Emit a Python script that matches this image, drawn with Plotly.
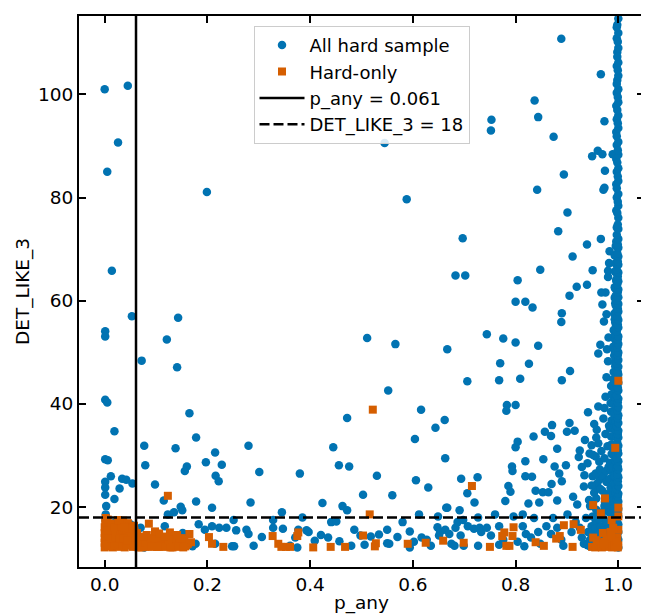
import plotly.graph_objects as go

# ---------------- data ----------------
p_any_cut = 0.061
det_like_cut = 18

# All hard sample: scattered points (p_any, DET_LIKE_3)
all_left_x = [0.000, 0.045, 0.026, 0.005, 0.014, 0.053, 0.001, 0.001, 0.001, 0.005,
              0.019, 0.001, 0.006, 0.012, 0.001, 0.001, 0.001, 0.034, 0.029, 0.019,
              0.003, 0.054, 0.042, 0.002, 0.007, 0.018, 0.030, 0.046, 0.054, 0.050,
              0.002, 0.020]
all_left_y = [101.0, 101.7, 90.7, 85.0, 65.8, 57.0, 54.1, 53.1, 40.8, 40.3,
              34.7, 29.3, 29.1, 26.0, 24.9, 23.8, 22.4, 25.5, 23.6, 21.6,
              20.2, 24.6, 25.3, 18.6, 16.0, 14.8, 14.1, 15.6, 14.4, 16.7,
              17.4, 17.0]

all_low_x = [0.072, 0.077, 0.079, 0.098, 0.121, 0.143, 0.141, 0.138, 0.165, 0.178,
             0.160, 0.156, 0.197, 0.215, 0.228, 0.216, 0.222, 0.199, 0.115, 0.123,
             0.135, 0.148, 0.151, 0.178, 0.209, 0.280, 0.301, 0.284, 0.070, 0.066,
             0.077, 0.117, 0.104, 0.152, 0.171, 0.177, 0.183, 0.195, 0.209, 0.223,
             0.215, 0.237, 0.251, 0.256, 0.248, 0.252, 0.276, 0.280, 0.290, 0.306,
             0.328, 0.328, 0.347, 0.345]
all_low_y = [48.4, 31.9, 28.1, 24.4, 52.5, 56.7, 47.1, 31.4, 38.2, 33.5,
             27.9, 27.0, 28.7, 30.6, 28.2, 26.1, 25.0, 81.1, 21.3, 18.6,
             19.0, 20.1, 19.4, 21.1, 19.9, 31.9, 26.8, 20.9, 16.0, 14.1,
             12.2, 16.3, 14.2, 15.0, 12.4, 12.9, 16.7, 15.6, 16.3, 16.0,
             12.9, 16.0, 17.5, 15.5, 12.4, 12.4, 15.6, 14.8, 12.5, 14.2,
             17.5, 16.0, 15.8, 19.0]

all_mid_x = [0.445, 0.472, 0.456, 0.476, 0.380, 0.424, 0.463, 0.472, 0.503, 0.511,
             0.545, 0.552, 0.566, 0.530, 0.560, 0.588, 0.616, 0.604, 0.606, 0.630,
             0.644, 0.663, 0.662, 0.667, 0.683, 0.702, 0.697, 0.706, 0.694, 0.726,
             0.706, 0.720, 0.691, 0.665, 0.361, 0.371, 0.377, 0.385, 0.375, 0.393,
             0.397, 0.409, 0.421, 0.435, 0.441, 0.451, 0.457, 0.486, 0.480, 0.498,
             0.506, 0.518, 0.534, 0.550, 0.550, 0.554, 0.570, 0.580, 0.594, 0.594,
             0.602, 0.612, 0.617, 0.627, 0.635, 0.648, 0.651, 0.653, 0.663, 0.671,
             0.675, 0.681, 0.683, 0.687, 0.693, 0.698, 0.699, 0.707, 0.719, 0.727,
             0.730, 0.733, 0.727, 0.744, 0.649, 0.667]
all_mid_y = [31.6, 37.3, 28.1, 27.9, 26.5, 20.8, 20.2, 19.4, 22.4, 52.8,
             90.6, 42.6, 51.6, 26.1, 22.3, 79.7, 38.9, 33.2, 25.2, 23.8,
             35.4, 29.5, 36.9, 50.6, 64.9, 64.9, 72.1, 44.4, 25.5, 25.8,
             22.7, 20.9, 19.4, 19.9, 12.5, 14.1, 15.6, 18.0, 12.2, 15.5,
             15.2, 13.5, 14.6, 14.1, 17.1, 17.2, 13.4, 15.6, 12.5, 14.5,
             12.7, 14.3, 14.7, 15.6, 13.0, 12.9, 14.2, 17.1, 15.3, 12.2,
             13.3, 18.6, 14.1, 13.7, 12.5, 16.1, 14.5, 15.2, 15.6, 14.8,
             12.9, 12.5, 16.0, 17.1, 14.5, 17.5, 12.5, 16.3, 15.8, 18.0,
             16.0, 15.2, 12.5, 16.0, 18.2, 19.9]

all_high_x = [0.744, 0.753, 0.752, 0.776, 0.770, 0.768, 0.783, 0.782, 0.800, 0.800,
              0.800, 0.804, 0.809, 0.819, 0.833, 0.826, 0.837, 0.844, 0.842, 0.848,
              0.844, 0.874, 0.889, 0.894, 0.883, 0.901, 0.911, 0.905, 0.919, 0.890,
              0.889, 0.890, 0.906, 0.939, 0.939, 0.950, 0.949, 0.960, 0.966, 0.969,
              0.974, 0.973, 0.971, 0.973, 0.966, 0.989,
              0.800, 0.804, 0.819, 0.835, 0.857, 0.871, 0.869, 0.881, 0.876, 0.854,
              0.793, 0.794, 0.786, 0.790, 0.780, 0.819, 0.832, 0.839, 0.853, 0.864,
              0.881, 0.846, 0.825, 0.890, 0.898, 0.900, 0.905, 0.915, 0.923, 0.929,
              0.934, 0.933, 0.941, 0.944, 0.956, 0.953, 0.957, 0.961, 0.963, 0.964,
              0.969, 0.957, 0.945, 0.973, 0.975, 0.977, 0.980, 0.978, 0.981, 0.965,
              0.961, 0.972, 0.977, 0.969, 0.975, 0.980, 0.982, 0.983, 0.980, 0.967,
              0.912, 0.920, 0.870, 0.885, 0.940, 0.950, 0.955, 0.925, 0.935, 0.948]
all_high_y = [53.5, 95.1, 93.0, 52.7, 47.9, 44.6, 39.8, 38.7, 39.8, 51.9,
              59.8, 64.0, 44.9, 59.8, 58.7, 47.8, 98.8, 95.6, 81.5, 66.0,
              51.3, 91.8, 110.8, 84.5, 73.5, 77.1, 68.6, 61.0, 62.7, 57.6,
              55.9, 44.6, 46.4, 70.9, 63.1, 65.9, 88.0, 89.1, 72.0, 88.4,
              85.2, 81.9, 81.5, 94.8, 103.9, 88.4,
              31.6, 32.7, 28.9, 33.7, 34.6, 35.9, 33.8, 31.3, 27.9, 29.3,
              27.9, 27.0, 24.1, 23.0, 21.2, 26.0, 25.9, 23.2, 22.9, 22.9,
              21.3, 20.9, 20.7, 25.0, 28.1, 34.6, 36.3, 34.8, 29.7, 27.8,
              26.2, 24.0, 38.4, 30.4, 29.8, 36.1, 33.5, 39.5, 28.8, 25.4,
              23.2, 21.7, 20.2, 39.2, 41.4, 45.2, 48.3, 50.6, 52.9, 51.5,
              49.8, 56.0, 57.4, 59.3, 61.6, 64.6, 67.3, 69.6, 65.8, 61.6,
              22.0, 20.5, 24.5, 26.5, 28.5, 26.0, 24.0, 31.0, 33.0, 32.0]

all_floor_x = [0.752, 0.760, 0.768, 0.768, 0.776, 0.796, 0.804, 0.814, 0.814, 0.820,
               0.817, 0.830, 0.836, 0.844, 0.848, 0.860, 0.869, 0.873, 0.881, 0.889,
               0.893, 0.901, 0.909, 0.917, 0.925, 0.929, 0.933, 0.937, 0.941, 0.948,
               0.945, 0.956, 0.957, 0.961, 0.965, 0.969, 0.975, 0.980, 0.983, 0.973,
               0.980, 0.940, 0.955, 0.962, 0.970, 0.978, 0.985, 0.988]
all_floor_y = [14.5, 18.6, 16.3, 12.7, 13.7, 18.2, 13.3, 18.6, 16.3, 14.8,
               12.4, 14.1, 17.9, 15.2, 12.9, 16.3, 14.8, 17.9, 16.0, 13.7,
               12.5, 18.6, 15.2, 17.1, 16.0, 14.1, 12.9, 17.9, 15.2, 16.3,
               13.7, 17.1, 15.6, 14.5, 16.3, 13.3, 15.2, 16.3, 19.4, 20.2,
               20.5, 12.6, 12.8, 18.5, 17.8, 12.6, 14.0, 18.0]

# crowded region just left of p_any = 1
all_blob_x = [0.945, 0.952, 0.958, 0.963, 0.968, 0.972, 0.976, 0.947, 0.955, 0.960,
              0.966, 0.971, 0.975, 0.979, 0.950, 0.957, 0.962, 0.969, 0.974, 0.978,
              0.943, 0.953, 0.959, 0.965, 0.970, 0.977, 0.981, 0.948, 0.956, 0.964,
              0.973, 0.979, 0.951, 0.961, 0.967, 0.975, 0.982, 0.958, 0.971, 0.976]
all_blob_y = [12.4, 13.1, 12.8, 13.6, 12.5, 14.2, 13.0, 15.0, 15.8, 14.6,
              16.2, 15.5, 17.3, 14.4, 18.2, 19.5, 17.8, 19.0, 21.0, 22.5,
              21.4, 22.8, 24.6, 23.5, 26.1, 24.9, 27.8, 24.2, 26.5, 27.3,
              29.5, 31.8, 30.1, 32.4, 30.9, 34.2, 35.8, 35.0, 37.2, 27.0]

# dense column of sources at p_any ~ 1
col_one_y = [12.2, 12.8, 13.7, 14.3, 15.2, 15.8, 16.7, 17.3, 18.2, 18.8,
             19.7, 20.5, 21.1, 22.0, 22.6, 23.5, 24.1, 25.0, 25.8, 26.4,
             27.3, 27.9, 28.9, 29.4, 30.4, 31.0, 31.9, 32.5, 33.5, 34.2,
             34.8, 35.7, 36.3, 37.3, 37.8, 38.8, 39.4, 40.3, 41.0, 41.6,
             42.6, 43.2, 44.1, 44.7, 45.7, 46.2, 47.2, 47.9, 48.5, 49.5,
             50.0, 51.0, 51.6, 52.5, 53.1, 54.0, 54.8, 55.4, 56.3, 56.9,
             57.9, 58.5, 59.4, 60.1, 60.7, 61.7, 62.2, 63.2, 63.8, 64.7,
             65.5, 66.0, 67.0, 67.6, 68.6, 69.2, 70.3, 70.9, 72.0, 72.8,
             73.9, 74.8, 76.1, 77.0, 78.4, 79.2, 80.7, 81.8, 83.2, 84.1,
             85.7, 86.8, 88.3, 89.2, 90.8, 91.9, 93.5, 94.4, 95.9, 97.0,
             98.5, 99.5, 101.0, 102.0, 103.6, 104.7, 106.2, 107.3, 109.0, 110.2,
             111.9, 113.0, 114.7, 116.0]
col_one_x = [1.000, 0.999, 1.000, 0.998, 1.000, 0.999, 1.000, 0.997, 1.000, 0.999,
             1.000, 0.998, 1.000, 0.999, 1.000, 0.997, 1.000, 0.999, 1.000, 0.998,
             1.000, 0.999, 1.000, 0.997, 1.000, 0.999, 1.000, 0.998, 1.000, 0.999,
             1.000, 0.997, 1.000, 0.999, 1.000, 0.998, 1.000, 0.999, 1.000, 0.997,
             1.000, 0.999, 1.000, 0.998, 1.000, 0.999, 1.000, 0.997, 1.000, 0.999,
             1.000, 0.998, 1.000, 0.999, 1.000, 0.997, 1.000, 0.999, 1.000, 0.998,
             1.000, 0.999, 1.000, 0.997, 1.000, 0.999, 1.000, 0.998, 1.000, 0.999,
             1.000, 0.997, 1.000, 0.999, 1.000, 0.998, 1.000, 0.999, 1.000, 0.997,
             1.000, 0.999, 1.000, 0.998, 1.000, 0.999, 1.000, 0.997, 1.000, 0.999,
             1.000, 0.998, 1.000, 0.999, 1.000, 0.997, 1.000, 0.999, 1.000, 0.998,
             1.000, 0.999, 1.000, 0.997, 1.000, 0.999, 1.000, 0.998, 1.000, 0.999,
             1.000, 0.997, 1.000, 0.999]

col_fill_y = [12.5, 14.0, 15.5, 17.0, 18.5, 20.0, 21.6, 23.0, 24.5, 26.0,
              27.6, 29.1, 30.6, 32.0, 33.6, 35.1, 36.6, 38.1, 39.6, 41.2,
              42.7, 44.2, 45.7, 47.3, 48.8, 50.3, 51.8, 53.4, 54.9, 56.4,
              57.9, 59.5, 61.0, 62.6, 64.1, 65.7, 67.3, 68.8, 71.5, 74.2,
              77.5, 80.0, 82.6, 85.0, 87.5, 90.2, 92.7, 95.2, 97.8, 100.3,
              102.8, 105.5, 108.2, 110.9, 113.5]
col_fill_x = [0.995, 0.993, 0.996, 0.994, 0.995, 0.993, 0.996, 0.994, 0.995, 0.993,
              0.996, 0.994, 0.995, 0.993, 0.996, 0.994, 0.995, 0.993, 0.996, 0.994,
              0.995, 0.993, 0.996, 0.994, 0.995, 0.993, 0.996, 0.994, 0.995, 0.993,
              0.996, 0.994, 0.995, 0.993, 0.996, 0.994, 0.995, 0.993, 0.996, 0.997,
              0.996, 0.997, 0.996, 0.997, 0.996, 0.997, 0.996, 0.997, 0.996, 0.997,
              0.998, 0.997, 0.998, 0.997, 0.998]

col_near_y = [12.5, 13.9, 15.4, 16.9, 18.4, 19.8, 21.5, 22.9, 24.6, 26.1,
              27.7, 29.0, 30.8, 32.2, 33.9, 35.3, 36.9, 38.6, 40.0, 41.7,
              43.1, 44.8, 46.2, 48.0, 49.4, 51.1, 52.6, 54.3, 55.8, 57.5,
              59.1, 60.6, 62.4, 63.9, 65.6, 67.2, 68.9, 70.6]
col_near_x = [0.991, 0.988, 0.992, 0.989, 0.993, 0.990, 0.991, 0.987, 0.992, 0.990,
              0.989, 0.993, 0.990, 0.988, 0.992, 0.991, 0.989, 0.993, 0.990, 0.988,
              0.992, 0.990, 0.991, 0.994, 0.992, 0.990, 0.993, 0.991, 0.994, 0.992,
              0.995, 0.993, 0.994, 0.996, 0.994, 0.995, 0.996, 0.995]

col_far_y = [12.4, 14.0, 15.7, 17.2, 18.9, 20.6, 22.2, 23.8, 25.5, 27.1,
             28.6, 30.3, 32.0, 33.7, 35.3, 36.8, 38.5, 40.2, 41.9, 43.5]
col_far_x = [0.982, 0.984, 0.981, 0.985, 0.983, 0.986, 0.982, 0.985, 0.983, 0.986,
             0.984, 0.987, 0.985, 0.986, 0.984, 0.987, 0.986, 0.985, 0.987, 0.986]

# Hard-only sources
hard_block_x = [0.000, 0.000, 0.000, 0.000, 0.000, 0.001, 0.002,
                0.008, 0.009, 0.007, 0.010, 0.011, 0.006,
                0.016, 0.017, 0.015, 0.018, 0.014,
                0.024, 0.023, 0.025, 0.022, 0.028,
                0.031, 0.033, 0.030, 0.034, 0.036,
                0.039, 0.041, 0.040, 0.042, 0.045,
                0.047, 0.049, 0.048, 0.051,
                0.055, 0.056, 0.054, 0.058,
                0.062, 0.064, 0.066,
                0.004, 0.012, 0.020, 0.027, 0.035, 0.043, 0.052, 0.059, 0.003, 0.013,
                0.021, 0.029, 0.037, 0.044, 0.053, 0.060, 0.005, 0.019, 0.032, 0.046,
                0.057, 0.026, 0.038]
hard_block_y = [12.2, 13.1, 14.0, 15.0, 16.1, 17.0, 17.9,
                12.4, 13.5, 14.6, 15.7, 16.8, 17.6,
                12.2, 13.2, 14.3, 15.4, 16.4,
                12.5, 13.6, 14.8, 15.8, 16.6,
                12.3, 13.4, 14.5, 15.2, 17.4,
                12.2, 13.1, 14.2, 15.6, 16.9,
                12.6, 13.8, 14.9, 16.2,
                12.3, 13.3, 14.5, 15.4,
                12.4, 13.6, 12.2,
                12.8, 12.7, 12.9, 13.0, 12.8, 12.6, 13.0, 12.9, 14.6, 14.0,
                14.2, 13.9, 14.0, 13.5, 16.0, 14.1, 15.5, 16.0, 16.3, 15.9,
                16.4, 17.5, 16.1]

hard_rest_x = [0.070, 0.078, 0.082, 0.086, 0.094, 0.098, 0.102, 0.074, 0.088, 0.108,
               0.112, 0.115, 0.123, 0.127, 0.135, 0.143, 0.151, 0.159, 0.165, 0.123,
               0.130, 0.138, 0.147, 0.155, 0.162, 0.120, 0.203, 0.209, 0.231, 0.327,
               0.338, 0.344, 0.353, 0.361, 0.375, 0.377, 0.406, 0.440, 0.468, 0.503,
               0.516, 0.522, 0.526, 0.528, 0.590, 0.625, 0.659, 0.699, 0.715, 0.750,
               0.774, 0.778, 0.782, 0.788, 0.794, 0.796, 0.839, 0.855, 0.879, 0.886,
               0.894, 0.911, 0.913, 0.927, 0.949, 0.951, 0.951, 0.965, 0.966, 0.973,
               0.974, 0.977, 0.981, 0.985, 0.987, 0.989, 0.994, 0.994, 0.998, 1.000,
               1.000, 1.000, 1.000, 1.000, 0.960, 0.990, 0.970,
               0.068, 0.072, 0.080, 0.084, 0.090, 0.096, 0.100, 0.105, 0.110, 0.118,
               0.125, 0.132, 0.140, 0.145, 0.150, 0.157, 0.168, 0.063, 0.076, 0.092,
               0.106, 0.117, 0.128, 0.141, 0.153,
               0.955, 0.962, 0.968, 0.975, 0.982, 0.988, 0.993, 0.996, 0.958, 0.972,
               0.986, 0.999]
hard_rest_y = [12.9, 12.3, 14.6, 16.8, 13.3, 15.3, 12.3, 13.5, 12.6, 13.0,
               12.4, 12.8, 12.5, 15.1, 12.9, 12.7, 12.5, 12.7, 14.8, 22.2,
               13.4, 13.9, 13.2, 13.6, 12.9, 13.6, 14.2, 12.9, 12.3, 14.4,
               12.9, 12.3, 12.3, 12.3, 14.4, 15.1, 12.2, 12.3, 12.3, 14.5,
               18.6, 38.9, 12.4, 13.0, 12.9, 13.1, 13.5, 13.1, 24.1, 12.3,
               14.4, 15.1, 12.5, 12.5, 14.4, 16.1, 13.2, 12.5, 13.9, 14.4,
               16.5, 12.3, 16.7, 15.6, 12.3, 14.1, 20.4, 12.3, 18.8, 13.3,
               21.7, 14.1, 12.7, 15.2, 17.5, 13.3, 12.3, 31.5, 14.1, 15.6,
               18.2, 19.9, 44.5, 12.6, 13.0, 16.0, 15.0,
               13.6, 12.2, 13.2, 12.4, 14.0, 12.6, 13.8, 12.3, 14.1, 12.3,
               13.7, 12.2, 12.3, 13.9, 14.0, 12.4, 13.2, 15.0, 14.3, 12.3,
               14.9, 14.3, 12.2, 14.6, 12.2,
               12.2, 12.5, 12.2, 12.4, 12.3, 12.2, 12.6, 13.4, 13.6, 12.9,
               14.6, 12.2]

x_ticks = [0.0, 0.2, 0.4, 0.6, 0.8, 1.0]
y_ticks = [20, 40, 60, 80, 100]
x_range = [-0.05, 1.05]
y_range = [8.4, 115.2]

# ---------------- figure ----------------
blue = "#0173b2"
orange = "#d55e00"
font_family = "DejaVu Sans"
tick_size = 18.5
legend_size = 18

all_x = (all_left_x + all_low_x + all_mid_x + all_high_x + all_floor_x + all_blob_x
         + col_far_x + col_near_x + col_fill_x + col_one_x)
all_y = (all_left_y + all_low_y + all_mid_y + all_high_y + all_floor_y + all_blob_y
         + col_far_y + col_near_y + col_fill_y + col_one_y)
hard_x = hard_block_x + hard_rest_x
hard_y = hard_block_y + hard_rest_y

fig = go.Figure()
fig.add_trace(go.Scatter(
    x=all_x, y=all_y, mode="markers", name="All hard sample",
    marker=dict(symbol="circle", size=8.5, color=blue, line=dict(width=0)),
))
fig.add_trace(go.Scatter(
    x=hard_x, y=hard_y, mode="markers", name="Hard-only",
    marker=dict(symbol="square", size=8, color=orange, line=dict(width=0)),
))

fig.add_shape(type="line", xref="x", yref="paper",
              x0=p_any_cut, x1=p_any_cut, y0=0, y1=1,
              line=dict(color="black", width=2.5), layer="above",
              showlegend=True, name=f"p_any = {p_any_cut}")
fig.add_shape(type="line", xref="paper", yref="y",
              x0=0, x1=1, y0=det_like_cut, y1=det_like_cut,
              line=dict(color="black", width=2.5, dash="10px,4px"), layer="above",
              showlegend=True, name=f"DET_LIKE_3 = {det_like_cut}")

axis_common = dict(
    showgrid=False, zeroline=False, automargin=False,
    showline=True, linecolor="black", linewidth=2, mirror="allticks",
    ticks="inside", ticklen=7, tickwidth=1.5, tickcolor="black",
    tickfont=dict(family=font_family, size=tick_size, color="black"),
)

fig.update_xaxes(range=x_range, tickvals=x_ticks, tickformat=".1f",
                 title=dict(text="p_any", font=dict(family=font_family, size=tick_size, color="black"),
                            standoff=4),
                 **axis_common)
fig.update_yaxes(range=y_range, tickvals=y_ticks,
                 title=dict(text="DET_LIKE_3", font=dict(family=font_family, size=tick_size, color="black"),
                            standoff=4),
                 **axis_common)

# the page adds an 8 px body margin, so the figure is sized to sit inside the window
fig.update_layout(
    width=641, height=606,
    margin=dict(l=71, r=5, t=8, b=47),
    plot_bgcolor="white", paper_bgcolor="white",
    font=dict(family=font_family, size=tick_size, color="black"),
    legend=dict(x=0.5, y=0.982, xanchor="center", yanchor="top",
                itemwidth=45,
                bgcolor="rgba(255,255,255,0.85)", bordercolor="#cccccc", borderwidth=1,
                font=dict(family=font_family, size=legend_size, color="black")),
)

fig.write_html("out.html")
